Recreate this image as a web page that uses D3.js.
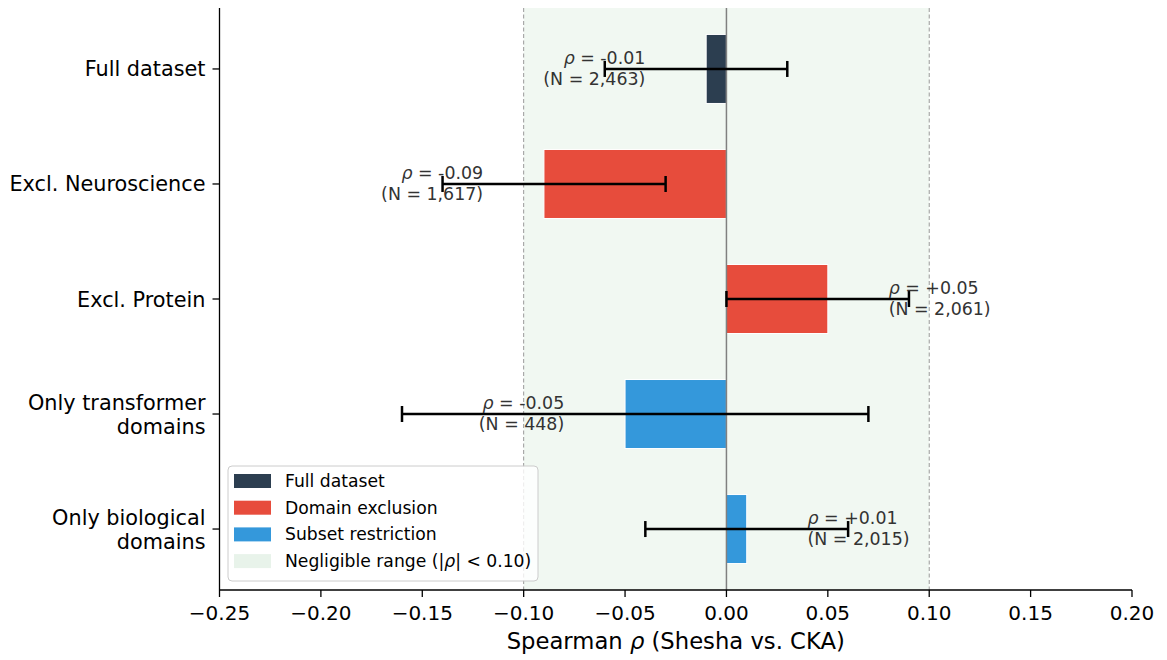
<!DOCTYPE html>
<html>
<head>
<meta charset="utf-8">
<script src="https://cdn.jsdelivr.net/npm/d3@7"></script>
<style>
  html, body { margin: 0; padding: 0; background: #fff; }
  svg { display: block; font-family: "DejaVu Sans", sans-serif; }
</style>
</head>
<body>
<div id="chart"></div>
<script>
const categories = ["Full dataset", "Excl. Neuroscience", "Excl. Protein", "Only transformer\ndomains", "Only biological\ndomains"];
const rhoValues = [-0.01, -0.09, 0.05, -0.05, 0.01];
const ciLow = [-0.06, -0.14, 0.00, -0.16, -0.04];
const ciHigh = [0.03, -0.03, 0.09, 0.07, 0.06];
const nValues = [2463, 1617, 2061, 448, 2015];
const groups = ["Full dataset", "Domain exclusion", "Domain exclusion", "Subset restriction", "Subset restriction"];
const legendLabels = ["Full dataset", "Domain exclusion", "Subset restriction"];
const xTicks = [-0.25, -0.20, -0.15, -0.10, -0.05, 0.00, 0.05, 0.10, 0.15, 0.20];
const negligible = 0.10;

const W = 1167, H = 660;
const pLeft = 219.5, pRight = 1132, pTop = 8, pBottom = 590;
const colors = {"Full dataset": "#2c3e50", "Domain exclusion": "#e74c3c", "Subset restriction": "#3498db"};

const svg = d3.select("#chart").append("svg").attr("width", W).attr("height", H);

const x = d3.scaleLinear().domain([-0.25, 0.20]).range([pLeft, pRight]);
const barH = 0.6;
const y = d3.scaleLinear().domain([-0.53, categories.length - 1 + 0.53]).range([pTop, pBottom]);

// negligible band
svg.append("rect")
  .attr("x", x(-negligible)).attr("y", pTop)
  .attr("width", x(negligible) - x(-negligible)).attr("height", pBottom - pTop)
  .attr("fill", "#f1f8f2");
[-negligible, negligible].forEach(v => {
  svg.append("line").attr("x1", x(v)).attr("x2", x(v)).attr("y1", pTop).attr("y2", pBottom)
    .attr("stroke", "#999").attr("stroke-width", 1).attr("stroke-dasharray", "4,2.5");
});

const data = categories.map((c, i) => ({c, i, rho: rhoValues[i], lo: ciLow[i], hi: ciHigh[i], n: nValues[i], g: groups[i]}));

// bars
svg.selectAll("rect.bar").data(data).enter().append("rect")
  .attr("class", "bar")
  .attr("x", d => x(Math.min(0, d.rho)))
  .attr("width", d => Math.abs(x(d.rho) - x(0)))
  .attr("y", d => y(d.i - barH / 2))
  .attr("height", d => y(d.i + barH / 2) - y(d.i - barH / 2))
  .attr("fill", d => colors[d.g])
  .attr("stroke", "#fff").attr("stroke-width", 1);

// zero line
svg.append("line").attr("x1", x(0)).attr("x2", x(0)).attr("y1", pTop).attr("y2", pBottom)
  .attr("stroke", "#808080").attr("stroke-width", 1.5);

// error bars
const cap = 8;
const eb = svg.selectAll("g.eb").data(data).enter().append("g").attr("class", "eb")
  .attr("stroke", "#000").attr("stroke-width", 2.5);
eb.append("line").attr("x1", d => x(d.lo)).attr("x2", d => x(d.hi)).attr("y1", d => y(d.i)).attr("y2", d => y(d.i));
eb.append("line").attr("x1", d => x(d.lo)).attr("x2", d => x(d.lo)).attr("y1", d => y(d.i) - cap).attr("y2", d => y(d.i) + cap);
eb.append("line").attr("x1", d => x(d.hi)).attr("x2", d => x(d.hi)).attr("y1", d => y(d.i) - cap).attr("y2", d => y(d.i) + cap);

// annotations: right-aligned left of negative bars, left-aligned right of positive bars
const fmtN = d3.format(",");
const annOffset = 0.03;
const annX = d => x(d.rho + (d.rho < 0 ? -annOffset : annOffset));
const ann = svg.selectAll("text.ann").data(data).enter().append("text").attr("class", "ann")
  .attr("x", annX)
  .attr("y", d => y(d.i))
  .attr("text-anchor", d => d.rho < 0 ? "end" : "start")
  .attr("font-size", 17.4).attr("fill", "#333");
ann.append("tspan").attr("x", annX).attr("dy", "-0.3em")
  .attr("font-style", "italic").text("ρ");
ann.append("tspan").text(d => " = " + (d.rho >= 0 ? "+" : "-") + Math.abs(d.rho).toFixed(2));
ann.append("tspan").attr("x", annX).attr("dy", "1.2em")
  .text(d => "(N = " + fmtN(d.n) + ")");

// axes spines
svg.append("line").attr("x1", pLeft).attr("x2", pLeft).attr("y1", pTop).attr("y2", pBottom).attr("stroke", "#000").attr("stroke-width", 1.3);
svg.append("line").attr("x1", pLeft).attr("x2", pRight).attr("y1", pBottom).attr("y2", pBottom).attr("stroke", "#000").attr("stroke-width", 1.3);

// x ticks
const xAxis = svg.append("g");
xTicks.forEach(t => {
  xAxis.append("line").attr("x1", x(t)).attr("x2", x(t)).attr("y1", pBottom).attr("y2", pBottom + 7).attr("stroke", "#000").attr("stroke-width", 1.3);
  xAxis.append("text").attr("x", x(t)).attr("y", pBottom + 30).attr("text-anchor", "middle")
    .attr("font-size", 20).attr("fill", "#000").text(t.toFixed(2).replace("-", "\u2212"));
});

// y ticks
const yAxis = svg.append("g");
data.forEach(d => {
  const cy = y(d.i);
  yAxis.append("line").attr("x1", pLeft - 7).attr("x2", pLeft).attr("y1", cy).attr("y2", cy).attr("stroke", "#000").attr("stroke-width", 1.3);
  const lines = d.c.split("\n");
  const lh = 24;
  const t = yAxis.append("text").attr("text-anchor", "end").attr("font-size", 20.8).attr("fill", "#000");
  lines.forEach((ln, k) => {
    t.append("tspan").attr("x", pLeft - 14).attr("y", cy + 7.5 + (k - (lines.length - 1) / 2) * lh).text(ln);
  });
});

// x axis label
const xl = svg.append("text").attr("x", (pLeft + pRight) / 2).attr("y", 649).attr("text-anchor", "middle")
  .attr("font-size", 22.7).attr("fill", "#000");
xl.append("tspan").text("Spearman ");
xl.append("tspan").attr("font-style", "italic").text("ρ");
xl.append("tspan").text(" (Shesha vs. CKA)");

// legend
const lg = svg.append("g");
lg.append("rect").attr("x", 228).attr("y", 466).attr("width", 310).attr("height", 115)
  .attr("rx", 4).attr("fill", "#fff").attr("fill-opacity", 0.8).attr("stroke", "#ccc").attr("stroke-width", 1);
const legItems = legendLabels.map(l => ({label: l, color: colors[l]}));
legItems.push({label: null, color: "#e8f3ea"});
legItems.forEach((it, k) => {
  const cy = 481 + k * 26.7;
  lg.append("rect").attr("x", 234).attr("y", cy - 7).attr("width", 37).attr("height", 14).attr("fill", it.color);
  const t = lg.append("text").attr("x", 285).attr("y", cy + 6).attr("font-size", 17.2).attr("fill", "#000");
  if (it.label) t.text(it.label);
  else {
    t.append("tspan").text("Negligible range (|");
    t.append("tspan").attr("font-style", "italic").text("ρ");
    t.append("tspan").text("| < " + negligible.toFixed(2) + ")");
  }
});
</script>
</body>
</html>
